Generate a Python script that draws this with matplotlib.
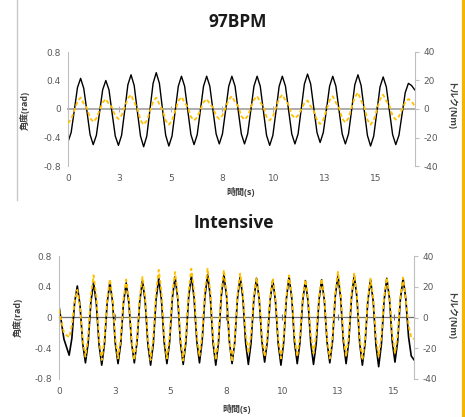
import numpy as np
import matplotlib
matplotlib.use("Agg")
import matplotlib.pyplot as plt
from matplotlib.lines import Line2D

# ---------------- data ----------------
# Top panel (97BPM): samples every 0.1535 s
top_dt = 0.1535
top_angle = [
    -0.46, -0.33, -0.02, 0.30, 0.43, 0.29, -0.03, -0.36,
    -0.50, -0.37, -0.05, 0.27, 0.40, 0.27, -0.06, -0.38,
    -0.51, -0.37, -0.02, 0.34, 0.48, 0.33, -0.03, -0.38,
    -0.53, -0.38, -0.01, 0.36, 0.51, 0.36, -0.01, -0.37,
    -0.52, -0.38, -0.03, 0.32, 0.46, 0.32, -0.02, -0.36,
    -0.50, -0.36, -0.02, 0.32, 0.46, 0.32, -0.02, -0.35,
    -0.49, -0.35, -0.02, 0.32, 0.46, 0.32, -0.02, -0.35,
    -0.49, -0.35, -0.02, 0.32, 0.46, 0.32, -0.03, -0.37,
    -0.51, -0.37, -0.03, 0.32, 0.46, 0.32, -0.02, -0.35,
    -0.49, -0.35, 0.00, 0.35, 0.49, 0.35, 0.01, -0.33,
    -0.47, -0.33, -0.01, 0.32, 0.46, 0.32, -0.02, -0.35,
    -0.49, -0.35, -0.01, 0.34, 0.48, 0.33, -0.02, -0.37,
    -0.52, -0.38, -0.04, 0.31, 0.45, 0.31, -0.03, -0.36,
    -0.50, -0.37, -0.07, 0.23, 0.36, 0.33, 0.27,
]
top_torque = [
    -10, -7.3, -1, 5.3, 8, 3.8, 0.5, -6.4,
    -9, -6.6, -1, 4.6, 7, 3.5, 1, -4.9,
    -7, -4.5, 1.5, 7.5, 10, 4.8, 0.5, -7.9,
    -11, -8.2, -1.5, 5.2, 8, 3.3, -0.5, -8.2,
    -11, -8.1, -1.3, 5.6, 8.5, 4.4, 1.3, -5.5,
    -8, -5.8, -0.5, 4.8, 7, 3.5, 1, -4.9,
    -7, -4.6, 1, 6.6, 9, 4.9, 1.8, -5,
    -7.5, -5, 0.8, 6.5, 9, 4.8, 1.5, -5.5,
    -8, -5.3, 1, 7.3, 10, 5.9, 2.8, -4,
    -6.5, -4.6, -0.3, 4.1, 6, 1.9, -1.3, -8,
    -10.5, -7.6, -0.8, 6.1, 9, 4.4, 0.8, -6.7,
    -9.5, -6.4, 1, 8.4, 11.5, 5.9, 1.3, -7.6,
    -11, -7.9, -0.5, 6.9, 10, 5.6, 2.3, -4.9,
    -7.5, -5.3, -0.3, 4.8, 7, 5.5, 2,
]
top_time = np.arange(len(top_angle)) * top_dt

# Bottom panel (Intensive): two leading samples, then every 0.1216 s from 0.455 s
bot_lead_time = [0.0, 0.22]
bot_start, bot_dt = 0.455, 0.1216
bot_angle = [
    0.15, -0.28,
    -0.49, -0.27, 0.19, 0.41, 0.16, -0.34,
    -0.59, -0.33, 0.20, 0.46, 0.19, -0.35,
    -0.62, -0.35, 0.19, 0.46, 0.20, -0.34,
    -0.60, -0.34, 0.19, 0.45, 0.19, -0.33,
    -0.59, -0.32, 0.21, 0.48, 0.21, -0.35,
    -0.62, -0.34, 0.23, 0.51, 0.23, -0.32,
    -0.60, -0.32, 0.25, 0.53, 0.25, -0.33,
    -0.61, -0.32, 0.26, 0.55, 0.26, -0.30,
    -0.59, -0.30, 0.27, 0.56, 0.27, -0.33,
    -0.62, -0.33, 0.27, 0.56, 0.27, -0.31,
    -0.60, -0.32, 0.25, 0.53, 0.25, -0.33,
    -0.61, -0.33, 0.23, 0.51, 0.24, -0.31,
    -0.58, -0.31, 0.22, 0.49, 0.21, -0.34,
    -0.62, -0.33, 0.24, 0.53, 0.25, -0.32,
    -0.60, -0.33, 0.21, 0.48, 0.21, -0.34,
    -0.61, -0.34, 0.22, 0.49, 0.22, -0.32,
    -0.59, -0.31, 0.27, 0.55, 0.26, -0.31,
    -0.60, -0.31, 0.26, 0.55, 0.26, -0.33,
    -0.62, -0.34, 0.21, 0.49, 0.21, -0.36,
    -0.64, -0.35, 0.22, 0.51, 0.24, -0.31,
    -0.58, -0.31, 0.24, 0.51, 0.24, -0.25, -0.50, -0.55,
]
bot_torque = [
    5, -10,
    -13, -5.3, 10.3, 18, 7.1, -14.6,
    -25.5, -12.3, 14.3, 27.5, 13.7, -13.9,
    -27.7, -14.5, 11.8, 25, 12.1, -13.7,
    -26.6, -13.8, 11.9, 24.7, 11.6, -14.6,
    -27.7, -14.2, 12.9, 26.4, 12.9, -14.2,
    -27.7, -13, 16.3, 31, 16.6, -12.2,
    -26.6, -12.6, 15.6, 29.6, 15.2, -13.6,
    -28, -13, 16.8, 31.8, 17.5, -11.2,
    -25.5, -11.2, 17.5, 31.8, 16.9, -12.8,
    -27.7, -13, 16.3, 31, 16, -13.8,
    -28.8, -14.5, 14.3, 28.6, 15.6, -10.4,
    -23.4, -11.1, 13.7, 26, 13.1, -12.6,
    -25.5, -12.8, 12.6, 25.3, 12.3, -13.6,
    -26.6, -13.1, 14, 27.5, 14.3, -12.3,
    -25.5, -13, 12.2, 24.7, 12.7, -11.4,
    -23.4, -11.2, 13.1, 25.3, 12.3, -13.6,
    -26.6, -12.5, 15.6, 29.7, 15.9, -11.7,
    -25.5, -12, 15.1, 28.6, 14.5, -13.6,
    -27.7, -14.5, 12.1, 25.3, 12.6, -12.8,
    -25.5, -12.6, 13.1, 26, 13.7, -11.1,
    -23.4, -11.1, 13.7, 26, 12, -5, -13, -14,
]
bot_time = np.concatenate([bot_lead_time,
                           bot_start + np.arange(len(bot_angle) - 2) * bot_dt])

x_ticks = [0, 2.5, 5, 7.5, 10, 12.5, 15]
x_tick_labels = ["0", "3", "5", "8", "10", "13", "15"]
left_ticks = [-0.8, -0.4, 0, 0.4, 0.8]
left_tick_labels = ["-0.8", "-0.4", "0", "0.4", "0.8"]
right_ticks = [-40, -20, 0, 20, 40]
right_tick_labels = ["-40", "-20", "0", "20", "40"]

titles = ["97BPM", "Intensive"]
xlabel = "時間(s)"
ylabel_left = "角度(rad)"
ylabel_right = "トルク(Nm)"

# ---------------- style ----------------
FAM = ["Open Sans", "Noto Sans CJK JP", "DejaVu Sans"]
plt.rcParams["font.family"] = FAM
W, H = 465, 417
GRAY_TXT = "#595959"
SPINE = "#BFBFBF"
YELLOW = "#FFC000"
TICKFONT = dict(family="DejaVu Sans", size=6.5)

fig = plt.figure(figsize=(W / 100, H / 100), dpi=100)
fig.patch.set_facecolor("white")


def px_rect(l, t, r, b):
    return [l / W, 1 - b / H, (r - l) / W, (b - t) / H]


def make_panel(rect, time, angle, torque, xmax, zero_color, zero_lw, black_lw):
    ax = fig.add_axes(rect)
    axr = ax.twinx()
    ax.plot(time, angle, color="black", lw=black_lw, solid_joinstyle="round")
    axr.plot(time, torque, color=YELLOW, lw=1.3, dashes=(2.2, 1.4))
    ax.set_xlim(0, xmax)
    ax.set_ylim(-0.8, 0.8)
    axr.set_ylim(-40, 40)
    for a in (ax, axr):
        a.patch.set_visible(False)
        for s in ("top", "bottom"):
            a.spines[s].set_visible(False)
    ax.spines["right"].set_visible(False)
    axr.spines["left"].set_visible(False)
    ax.spines["left"].set_color(SPINE)
    axr.spines["right"].set_color(SPINE)
    ax.set_yticks(left_ticks)
    ax.set_yticklabels(left_tick_labels, fontdict=TICKFONT)
    axr.set_yticks(right_ticks)
    axr.set_yticklabels(right_tick_labels, fontdict=TICKFONT)
    ax.tick_params(axis="y", length=0, pad=5, labelcolor=GRAY_TXT)
    axr.tick_params(axis="y", length=3, color=SPINE, pad=3,
                    labelcolor=GRAY_TXT)
    ax.set_xticks(x_ticks)
    ax.set_xticklabels(x_tick_labels, fontdict=TICKFONT)
    ax.tick_params(axis="x", length=0, pad=6, labelcolor=GRAY_TXT)
    sec = ax.secondary_xaxis(0.5)
    sec.set_xticks(x_ticks)
    sec.set_xticklabels([])
    sec.tick_params(axis="x", direction="inout", length=5, color=zero_color,
                    labelbottom=False, labeltop=False, width=0.8)
    for sp in sec.spines.values():
        sp.set_color(zero_color)
        sp.set_linewidth(zero_lw)
    axr.set_zorder(ax.get_zorder() + 1)
    return ax, axr


make_panel(px_rect(68, 52, 415, 166), top_time, top_angle, top_torque,
           16.9, "#ADADAD", 1.4, 1.0)
make_panel(px_rect(59, 256, 414, 379), bot_time, bot_angle, bot_torque,
           15.9, "#6E6E6E", 0.9, 1.2)

# titles and axis labels
fig.text(238 / W, 1 - 22 / H, titles[0], ha="center", va="center",
         fontsize=12.5, fontweight="bold", color="#1a1a1a")
fig.text(234 / W, 1 - 223 / H, titles[1], ha="center", va="center",
         fontsize=12.5, fontweight="bold", color="#1a1a1a")
for xc, yc in [(241, 192), (237, 409)]:
    fig.text(xc / W, 1 - yc / H, xlabel, ha="center", va="center",
             fontsize=6.5, fontweight="bold", color="#404040")
for xc, yc in [(25, 110), (18, 317)]:
    fig.text(xc / W, 1 - yc / H, ylabel_left, ha="center", va="center",
             rotation=90, fontsize=6.5, fontweight="bold", color="#404040")
for xc, yc in [(450, 107), (450, 316)]:
    fig.text(xc / W, 1 - yc / H, ylabel_right, ha="center", va="center",
             rotation=270, fontsize=6.5, fontweight="bold", color="#404040")

# frame decorations
fig.add_artist(Line2D([16.5 / W, 16.5 / W], [1 - 200 / H, 1.0],
                      transform=fig.transFigure, color="#C8C8C8", lw=1.0))
fig.add_artist(Line2D([462.5 / W, 462.5 / W], [0, 1],
                      transform=fig.transFigure, color="#F5B400", lw=2.3))

fig.savefig("out.png", dpi=100)
